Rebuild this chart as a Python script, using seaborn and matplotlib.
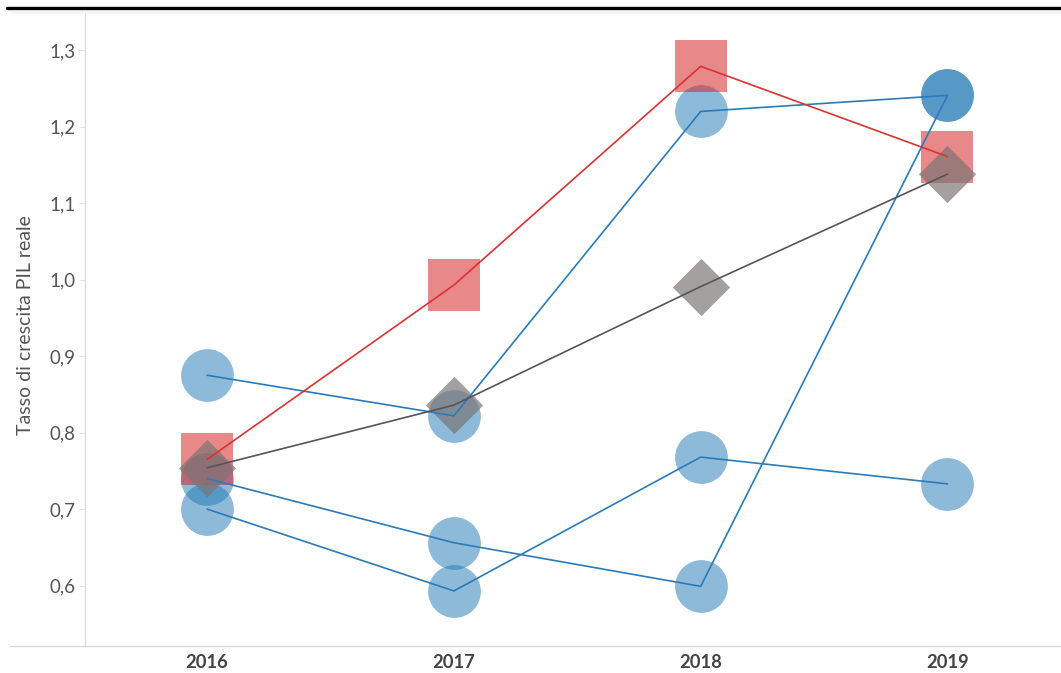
import matplotlib
matplotlib.use("Agg")
import matplotlib.pyplot as plt
import seaborn as sns
import pandas as pd
from matplotlib.lines import Line2D

years = ["2016", "2017", "2018", "2019"]

red_vals = [0.765, 0.993, 1.279, 1.161]
gray_vals = [0.754, 0.836, 0.991, 1.138]
blue_a = [0.875, 0.822, 1.220, 1.241]
blue_b = [0.740, 0.656, 0.599, 1.241]
blue_c = [0.700, 0.593, 0.768, 0.733]

y_ticks = [0.6, 0.7, 0.8, 0.9, 1.0, 1.1, 1.2, 1.3]
y_tick_labels = ["0,6", "0,7", "0,8", "0,9", "1,0", "1,1", "1,2", "1,3"]
y_title = "Tasso di crescita PIL reale"

sns.set_theme(style="white")
plt.rcParams["font.family"] = ["Lato", "DejaVu Sans"]

W, H = 1061, 673
fig = plt.figure(figsize=(W / 100, H / 100), dpi=100)
ax = fig.add_axes([85 / W, (H - 646) / H, (W - 85) / W, (646 - 12) / H])

xi = list(range(len(years)))

series = [
    ("blue_a", blue_a, "#1f77b4", "o", 1444, 0.5, "#2b7bba"),
    ("blue_b", blue_b, "#1f77b4", "o", 1444, 0.5, "#2b7bba"),
    ("blue_c", blue_c, "#1f77b4", "o", 1444, 0.5, "#2b7bba"),
    ("red", red_vals, "#d62728", "s", 1380, 0.55, "#dc3232"),
    ("gray", gray_vals, "#7a7474", "D", 850, 0.68, "#555555"),
]

for name, vals, col, mk, s, a, lc in series:
    df = pd.DataFrame({"x": xi, "y": vals})
    sns.scatterplot(data=df, x="x", y="y", ax=ax, color=col, marker=mk, s=s,
                    alpha=a, linewidth=0, zorder=2, legend=False)

for name, vals, col, mk, s, a, lc in series:
    df = pd.DataFrame({"x": xi, "y": vals})
    sns.lineplot(data=df, x="x", y="y", ax=ax, color=lc, linewidth=1.2,
                 sort=False, estimator=None, zorder=3, legend=False)

ax.set_xlim(-0.495, 3.46)
ax.set_ylim(0.521, 1.35)
ax.set_xticks(xi)
ax.set_xticklabels(years, fontsize=13.2, fontweight="bold", color="#444444")
ax.set_xticks([0.5, 1.5, 2.5], minor=True)
ax.tick_params(axis="x", which="major", length=0, pad=6)
ax.tick_params(axis="x", which="minor", length=4, width=0.8, color="#d8d8d8", direction="out")
ax.set_yticks(y_ticks)
ax.set_yticklabels(y_tick_labels, fontsize=13.5, color="#555555")
ax.tick_params(axis="y", length=4, width=0.8, color="#e0e0e0", pad=3, left=True)
ax.set_xlabel("")
ax.set_ylabel(y_title, fontsize=14, color="#555555")
ax.yaxis.set_label_coords(-0.052, 0.506)

for sp in ["top", "right", "bottom"]:
    ax.spines[sp].set_visible(False)
ax.spines["left"].set_color("#dcdcdc")
ax.spines["left"].set_linewidth(1.0)

# frame lines
fig.add_artist(Line2D([7 / W, 1.0], [(H - 8) / H, (H - 8) / H], color="black", linewidth=2.4))
fig.add_artist(Line2D([10 / W, 1.0], [(H - 12) / H, (H - 12) / H], color="#eeeeee", linewidth=1.0))
fig.add_artist(Line2D([10 / W, 1.0], [(H - 646) / H, (H - 646) / H], color="#d8d8d8", linewidth=1.0))

fig.savefig("out.png", dpi=100, facecolor="white")
